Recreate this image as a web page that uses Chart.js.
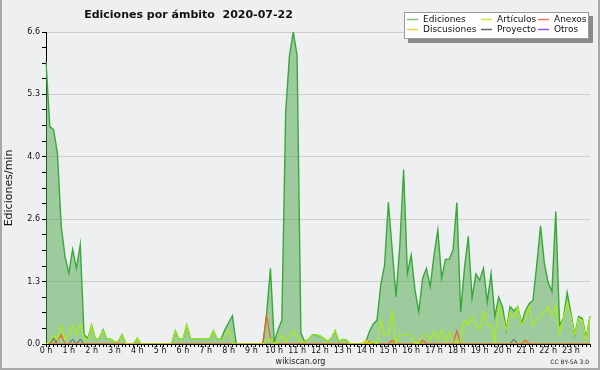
<!DOCTYPE html>
<html>
<head>
<meta charset="utf-8">
<script src="https://cdn.jsdelivr.net/npm/chart.js@4.4.1/dist/chart.umd.min.js"></script>
<style>
  html, body { margin: 0; padding: 0; background: #fff; }
  #wrap { width: 600px; height: 370px; }
</style>
</head>
<body>
<div id="wrap"><canvas id="grafico" width="600" height="370"></canvas></div>
<script>
const titulo = "Ediciones por ámbito  2020-07-22";
const tituloEjeY = "Ediciones/min";
const pie = "wikiscan.org";
const licencia = "CC BY-SA 3.0";
const yTicks = [0, 1.32, 2.64, 3.96, 5.28, 6.6];
const horas = ["0 h", "1 h", "2 h", "3 h", "4 h", "5 h", "6 h", "7 h", "8 h", "9 h", "10 h", "11 h",
  "12 h", "13 h", "14 h", "15 h", "16 h", "17 h", "18 h", "19 h", "20 h", "21 h", "22 h", "23 h"];

// una muestra cada 10 minutos (144 por dia)
const momentos = [];
for (let h = 0; h < 24; h++) {
  for (let m = 0; m < 60; m += 10) {
    momentos.push(h + ":" + String(m).padStart(2, "0"));
  }
}

const ediciones = [
  5.97, 4.6, 4.53, 4.04, 2.5, 1.85, 1.5, 2.0, 1.6, 2.1, 0.2, 0.12,
  0.4, 0.1, 0.12, 0.3, 0.1, 0.1, 0.05, 0.05, 0.2, 0, 0, 0,
  0.12, 0, 0, 0, 0, 0, 0, 0, 0, 0, 0.28, 0.1,
  0.1, 0.4, 0.12, 0.1, 0.1, 0.1, 0.1, 0.1, 0.28, 0.1, 0.1, 0.3,
  0.45, 0.6, 0, 0, 0, 0, 0, 0, 0, 0, 0.65, 1.6,
  0.05, 0.3, 0.5, 4.9, 6.1, 6.6, 6.1, 0.23, 0.05, 0.1, 0.19, 0.19,
  0.17, 0.12, 0.05, 0.12, 0.28, 0.05, 0.1, 0.08, 0, 0, 0, 0,
  0.03, 0.26, 0.42, 0.5, 1.25, 1.67, 3.0, 2.0, 1.0, 2.06, 3.69, 1.49,
  1.88, 1.14, 0.68, 1.39, 1.6, 1.21, 1.88, 2.41, 1.39, 1.79, 1.79, 1.99,
  2.99, 0.68, 1.6, 2.28, 0.97, 1.48, 1.35, 1.6, 0.89, 1.49, 0.58, 0.99,
  0.79, 0.3, 0.79, 0.7, 0.79, 0.44, 0.7, 0.85, 0.92, 1.67, 2.5, 1.71,
  1.3, 1.11, 2.8, 0.4, 0.54, 1.09, 0.65, 0.19, 0.58, 0.54, 0.12, 0.59
];
const articulos = [
  0, 0.05, 0.19, 0.1, 0.4, 0.1, 0.19, 0.4, 0.19, 0.42, 0.15, 0.08,
  0.4, 0.1, 0.12, 0.28, 0.1, 0.1, 0.05, 0.05, 0.19, 0, 0, 0,
  0.12, 0, 0, 0, 0, 0, 0, 0, 0, 0, 0.28, 0.1,
  0.1, 0.4, 0.12, 0.1, 0.1, 0.1, 0.1, 0.1, 0.28, 0.1, 0.1, 0.15,
  0.3, 0, 0, 0, 0, 0, 0, 0, 0, 0, 0.08, 0.1,
  0, 0.05, 0.2, 0.05, 0.15, 0.28, 0.15, 0.05, 0.05, 0.1, 0.19, 0.19,
  0.17, 0.12, 0.05, 0.12, 0.28, 0.05, 0.1, 0.08, 0, 0, 0, 0,
  0.03, 0.02, 0.05, 0, 0.5, 0.19, 0.19, 0.68, 0.02, 0.19, 0.19, 0.19,
  0.19, 0.02, 0.02, 0.19, 0.19, 0.08, 0.28, 0.08, 0.3, 0.05, 0.25, 0.05,
  0.05, 0.05, 0.5, 0.4, 0.58, 0.42, 0.3, 0.68, 0.4, 0.4, 0.05, 0.81,
  0.59, 0.3, 0.68, 0.55, 0.79, 0.4, 0.54, 0.79, 0.4, 0.5, 0.58, 0.68,
  0.79, 0.58, 0.81, 0.22, 0.54, 0.89, 0.58, 0.19, 0.54, 0.5, 0.08, 0.58
];
const anexos = [
  0, 0, 0, 0.08, 0.19, 0, 0, 0, 0, 0, 0, 0,
  0, 0, 0, 0, 0, 0, 0, 0, 0, 0, 0, 0,
  0, 0, 0, 0, 0, 0, 0, 0, 0, 0, 0, 0,
  0, 0, 0, 0, 0, 0, 0, 0, 0, 0, 0, 0,
  0, 0, 0, 0, 0, 0, 0, 0, 0, 0, 0.6, 0.12,
  0, 0, 0, 0, 0, 0, 0, 0, 0, 0, 0, 0,
  0, 0, 0, 0, 0, 0, 0, 0, 0, 0, 0, 0,
  0, 0.05, 0, 0, 0, 0, 0, 0.08, 0, 0, 0, 0,
  0, 0, 0, 0.08, 0, 0, 0, 0, 0, 0, 0, 0,
  0.28, 0, 0, 0, 0, 0, 0, 0, 0, 0, 0, 0,
  0, 0, 0, 0, 0, 0, 0.08, 0, 0, 0, 0, 0,
  0, 0, 0, 0, 0, 0, 0, 0, 0, 0, 0, 0
];
const discusiones = [
  0, 0, 0, 0, 0, 0, 0, 0, 0, 0, 0, 0,
  0, 0, 0, 0, 0, 0, 0, 0, 0, 0, 0, 0,
  0, 0, 0, 0, 0, 0, 0, 0, 0, 0, 0, 0,
  0, 0, 0, 0, 0, 0, 0, 0, 0, 0, 0, 0,
  0, 0, 0, 0, 0, 0, 0, 0, 0, 0, 0, 0,
  0, 0, 0, 0, 0, 0, 0, 0, 0, 0, 0, 0,
  0, 0, 0, 0, 0, 0, 0, 0, 0, 0, 0, 0,
  0.08, 0, 0, 0, 0, 0, 0, 0, 0, 0, 0, 0,
  0, 0, 0, 0, 0, 0, 0, 0, 0, 0, 0, 0,
  0, 0, 0, 0, 0, 0, 0, 0, 0, 0, 0, 0,
  0, 0, 0, 0, 0, 0, 0, 0, 0, 0, 0, 0,
  0, 0, 0, 0, 0, 0, 0, 0, 0, 0, 0, 0
];
const proyecto = [
  0, 0, 0.12, 0, 0, 0, 0, 0.1, 0, 0.1, 0, 0,
  0, 0, 0, 0, 0, 0, 0, 0, 0, 0, 0, 0,
  0, 0, 0, 0, 0, 0, 0, 0, 0, 0, 0, 0,
  0, 0, 0, 0, 0, 0, 0, 0, 0, 0, 0, 0,
  0, 0, 0, 0, 0, 0, 0, 0, 0, 0, 0, 0,
  0, 0, 0, 0, 0, 0, 0, 0, 0, 0, 0, 0,
  0, 0, 0, 0, 0, 0, 0, 0, 0, 0, 0, 0,
  0, 0, 0, 0, 0, 0, 0, 0, 0, 0, 0, 0,
  0, 0, 0, 0, 0, 0, 0, 0, 0, 0, 0, 0,
  0, 0, 0, 0, 0, 0, 0, 0, 0, 0, 0, 0,
  0, 0, 0, 0.1, 0, 0, 0, 0, 0, 0, 0, 0,
  0, 0, 0, 0, 0, 0, 0, 0, 0, 0, 0, 0
];
const otros = [
  0, 0, 0, 0, 0, 0, 0, 0, 0, 0, 0, 0,
  0, 0, 0, 0, 0, 0, 0, 0, 0, 0, 0, 0,
  0, 0, 0, 0, 0, 0, 0, 0, 0, 0, 0, 0,
  0, 0, 0, 0, 0, 0, 0, 0, 0, 0, 0, 0,
  0, 0, 0, 0, 0, 0, 0, 0, 0, 0, 0, 0,
  0, 0, 0, 0, 0, 0, 0, 0, 0, 0, 0, 0,
  0, 0, 0, 0, 0, 0, 0, 0, 0, 0, 0, 0,
  0, 0, 0, 0, 0, 0, 0, 0, 0, 0, 0, 0,
  0, 0, 0, 0, 0, 0, 0, 0, 0, 0, 0, 0,
  0, 0, 0, 0, 0, 0, 0, 0, 0, 0, 0, 0,
  0, 0, 0, 0, 0, 0, 0, 0, 0, 0, 0, 0,
  0, 0, 0, 0, 0, 0, 0, 0, 0, 0, 0, 0
];

const FUENTE = "'DejaVu Sans', sans-serif";

// leyenda: dos filas de tres columnas
const leyendaCols = [407, 481, 538];
const leyendaFilas = [19, 29];

const extras = {
  id: "extras",
  beforeDraw(chart) {
    const c = chart.ctx;
    c.save();
    c.fillStyle = "#eeeff1";
    c.fillRect(0, 0, chart.width, chart.height);
    c.fillStyle = "#a9a9a9";
    c.fillRect(0, 0, 2, chart.height);
    c.fillRect(chart.width - 2, 0, 2, chart.height);
    c.fillRect(0, chart.height - 2, chart.width, 2);
    c.restore();
  },
  afterDraw(chart) {
    const c = chart.ctx;
    c.save();
    // titulo
    c.fillStyle = "#111";
    c.font = "bold 11px " + FUENTE;
    c.textAlign = "center";
    c.textBaseline = "alphabetic";
    c.fillText(titulo, 188.5, 18);

    // leyenda
    c.fillStyle = "#8a8a8a";
    c.fillRect(408, 16, 185, 27);
    c.fillStyle = "#ffffff";
    c.fillRect(404, 12, 185, 27);
    c.strokeStyle = "#9a9a9a";
    c.lineWidth = 1;
    c.strokeRect(404.5, 12.5, 184, 26);
    c.font = "9px " + FUENTE;
    c.textAlign = "left";
    chart.data.datasets.forEach((ds, i) => {
      const x = leyendaCols[i % 3];
      const y = leyendaFilas[Math.floor(i / 3)];
      c.strokeStyle = ds.colorLeyenda;
      c.lineWidth = 1.5;
      c.beginPath();
      c.moveTo(x, y + 0.5);
      c.lineTo(x + 11, y + 0.5);
      c.stroke();
      c.fillStyle = "#111";
      c.fillText(ds.label, x + 16, y + 3.3);
    });

    // pie
    c.font = "8px " + FUENTE;
    c.textAlign = "center";
    c.fillStyle = "#222";
    c.fillText(pie, 300.5, 363.5);
    c.font = "6px " + FUENTE;
    c.textAlign = "right";
    c.fillText(licencia, 589, 364);
    c.restore();
  }
};

const ctx = document.getElementById("grafico").getContext("2d");
new Chart(ctx, {
  type: "line",
  data: {
    labels: momentos,
    datasets: [
      { label: "Ediciones", data: ediciones, borderColor: "#38a838", backgroundColor: "rgba(76,167,73,0.5)",
        colorLeyenda: "#7cc47c", fill: "origin", borderWidth: 1.4, order: 6 },
      { label: "Artículos", data: articulos, borderColor: "#aaee11", colorLeyenda: "#c4ec3c",
        fill: false, borderWidth: 1.2, order: 1 },
      { label: "Anexos", data: anexos, borderColor: "#ee6622", colorLeyenda: "#ee7744",
        fill: false, borderWidth: 1.2, order: 2 },
      { label: "Discusiones", data: discusiones, borderColor: "#eecc33", colorLeyenda: "#eecc44",
        fill: false, borderWidth: 1.2, order: 3 },
      { label: "Proyecto", data: proyecto, borderColor: "#555555", colorLeyenda: "#666666",
        fill: false, borderWidth: 1, order: 4 },
      { label: "Otros", data: otros, borderColor: "#9944ee", colorLeyenda: "#9955ee",
        fill: false, borderWidth: 1, order: 5 }
    ]
  },
  options: {
    responsive: false,
    devicePixelRatio: 1,
    animation: false,
    layout: { padding: { top: 32, right: 10, left: 0, bottom: 0 } },
    elements: { point: { radius: 0 }, line: { tension: 0 } },
    plugins: { legend: { display: false }, tooltip: { enabled: false }, title: { display: false } },
    scales: {
      x: {
        type: "category",
        offset: false,
        afterFit: (scale) => { scale.height = 26; },
        border: { color: "#000", width: 1 },
        grid: { drawOnChartArea: false, drawTicks: true, tickLength: 3, tickColor: "#000" },
        ticks: {
          autoSkip: false, maxRotation: 0, padding: -1,
          font: { family: FUENTE, size: 8 }, color: "#111",
          callback: (v, i) => (i % 6 === 0 ? horas[i / 6] : "")
        }
      },
      y: {
        min: 0, max: 6.6,
        afterFit: (scale) => { scale.width = 46; },
        afterBuildTicks: (scale) => {
          const t = [];
          yTicks.forEach((v, i) => {
            t.push({ value: v });
            if (i < yTicks.length - 1) {
              for (let k = 1; k < 4; k++) t.push({ value: v + (yTicks[i + 1] - v) * k / 4 });
            }
          });
          scale.ticks = t;
        },
        border: { color: "#000", width: 1 },
        grid: {
          color: (c) => (c.index % 4 === 0 ? "#cdcdcd" : "rgba(0,0,0,0)"),
          tickColor: "#000", tickLength: 4
        },
        ticks: {
          padding: 2, font: { family: FUENTE, size: 8 }, color: "#111",
          callback: (v, i) => (i % 4 === 0 ? v.toFixed(1) : "")
        },
        title: { display: true, text: tituloEjeY, color: "#111", font: { family: FUENTE, size: 11 },
          padding: { top: 3, bottom: 0 } }
      }
    }
  },
  plugins: [extras]
});
</script>
</body>
</html>
